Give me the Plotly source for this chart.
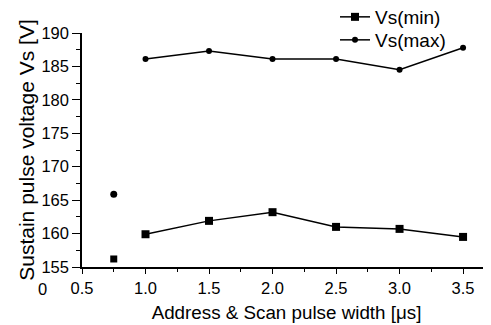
import plotly.graph_objects as go

x_main = [1.0, 1.5, 2.0, 2.5, 3.0, 3.5]
vs_min = [159.9, 161.9, 163.2, 161.0, 160.7, 159.5]
vs_max = [186.1, 187.3, 186.1, 186.1, 184.5, 187.8]
x_extra = [0.75]
vs_min_extra = [156.2]
vs_max_extra = [165.9]

x_tickvals = [0.5, 1.0, 1.5, 2.0, 2.5, 3.0, 3.5]
x_ticktext = ["0.5", "1.0", "1.5", "2.0", "2.5", "3.0", "3.5"]
y_tickvals = [155, 160, 165, 170, 175, 180, 185, 190]

FAM = "Liberation Sans, Arial, sans-serif"
tick_font = dict(family=FAM, size=16.5, color="black")
xtitle_font = dict(family=FAM, size=18.8, color="black")
ytitle_font = dict(family=FAM, size=21, color="black")
legend_font = dict(family=FAM, size=19, color="black")

# page body has an 8px margin; figure coordinates below are page coords minus 8
OFF = 8
L, T, W, H = 82 - OFF, 33 - OFF, 409, 234

fig = go.Figure()
fig.add_trace(go.Scatter(x=x_main, y=vs_min, mode="lines+markers", name="Vs(min)",
                         line=dict(color="black", width=1.5),
                         marker=dict(symbol="square", size=8, color="black"),
                         legend="legend"))
fig.add_trace(go.Scatter(x=x_main, y=vs_max, mode="lines+markers", name="Vs(max)",
                         line=dict(color="black", width=1.5),
                         marker=dict(symbol="circle", size=6, color="black"),
                         legend="legend2"))
fig.add_trace(go.Scatter(x=x_extra, y=vs_min_extra, mode="markers", showlegend=False,
                         marker=dict(symbol="square", size=7, color="black")))
fig.add_trace(go.Scatter(x=x_extra, y=vs_max_extra, mode="markers", showlegend=False,
                         marker=dict(symbol="circle", size=7, color="black")))

leg_x = (335 - OFF - L) / W
def leg_y(page_y):
    return 1 + (T - (page_y - OFF)) / H

fig.update_layout(
    width=491, height=325,
    margin=dict(l=L, r=491 - L - W, t=T, b=325 - T - H, autoexpand=False),
    paper_bgcolor="white", plot_bgcolor="white",
    font=tick_font,
    showlegend=True,
    legend=dict(x=leg_x, y=leg_y(17), xanchor="left", yanchor="middle",
                bgcolor="rgba(0,0,0,0)", font=legend_font, itemwidth=30),
    legend2=dict(x=leg_x, y=leg_y(40), xanchor="left", yanchor="middle",
                 bgcolor="rgba(0,0,0,0)", font=legend_font, itemwidth=30),
    xaxis=dict(range=[0.5, 3.72], tickvals=x_tickvals, ticktext=x_ticktext,
               showgrid=False, zeroline=False, showline=True, linecolor="black",
               linewidth=1.5, ticks="outside", ticklen=5, tickcolor="black",
               minor=dict(dtick=0.25, tick0=0.5, ticks="outside", ticklen=3, tickcolor="black"),
               title=dict(text="Address & Scan pulse width [μs]", font=xtitle_font, standoff=10),
               tickfont=tick_font, automargin=False),
    yaxis=dict(range=[155, 190], tickvals=y_tickvals,
               showgrid=False, zeroline=False, showline=True, linecolor="black",
               linewidth=1.5, ticks="outside", ticklen=8, tickcolor="black",
               minor=dict(dtick=2.5, tick0=155, ticks="outside", ticklen=4, tickcolor="black"),
               title=dict(text="Sustain pulse voltage Vs [V]", font=ytitle_font, standoff=1),
               tickfont=tick_font, automargin=False),
)
fig.add_annotation(text="0", xref="paper", yref="paper",
                   x=(42 - OFF - L) / W, y=-((289 - OFF) - (T + H)) / H,
                   xanchor="center", yanchor="middle", showarrow=False, font=tick_font)
fig.write_html("out.html")
